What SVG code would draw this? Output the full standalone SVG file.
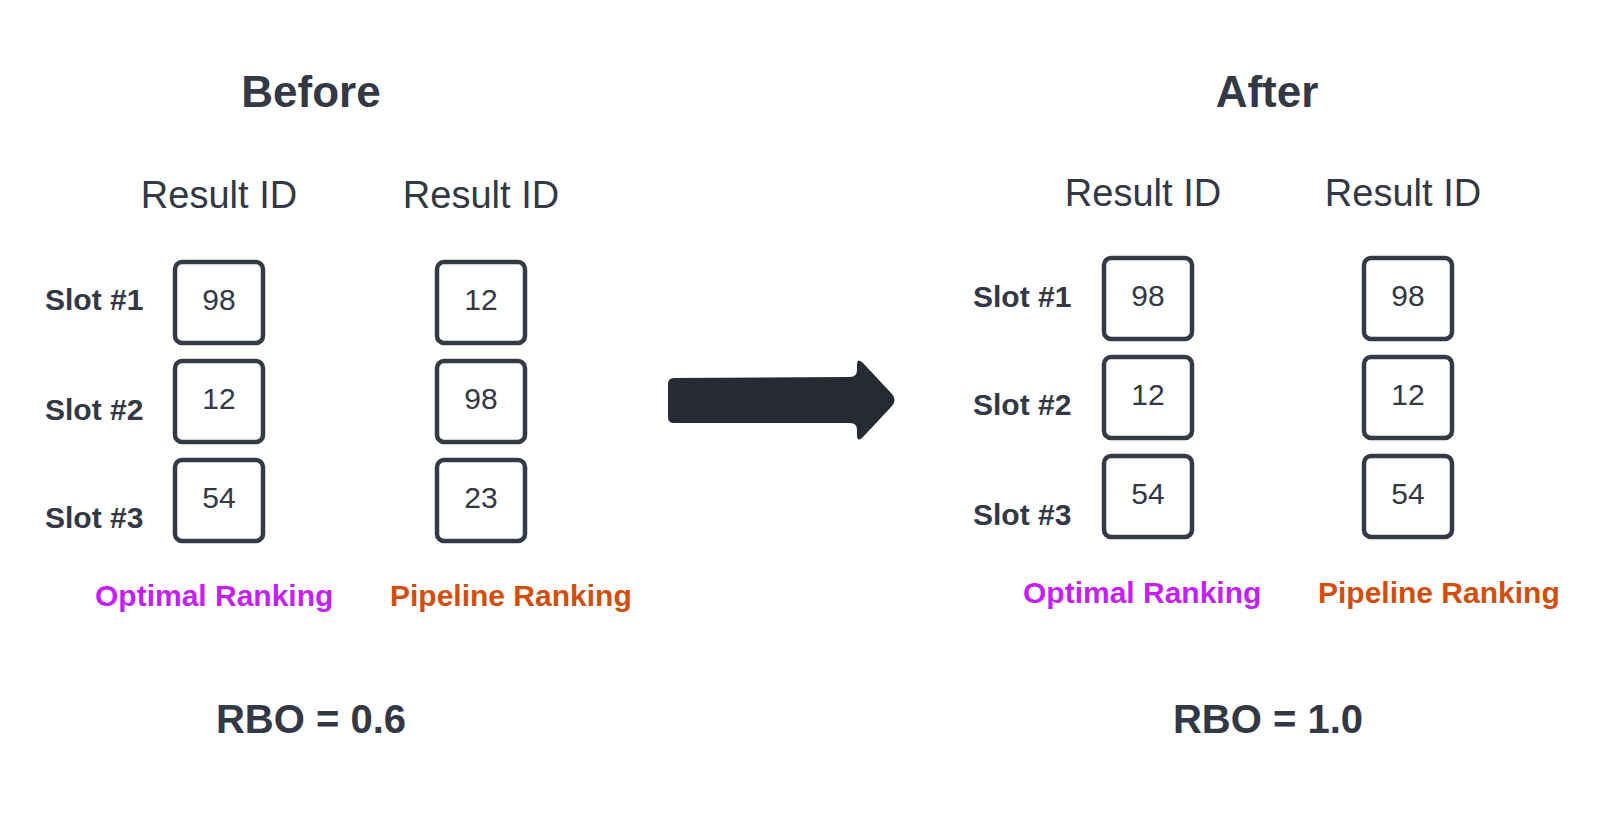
<svg xmlns="http://www.w3.org/2000/svg" width="1600" height="823" viewBox="0 0 1600 823">
<style>
text{font-family:"Liberation Sans",Arial,sans-serif;fill:#323844}
.title{font-size:44px;font-weight:bold;text-anchor:middle}
.hdr{font-size:38px;text-anchor:middle}
.slot{font-size:30px;font-weight:bold}
.num{font-size:30px;text-anchor:middle}
.box{fill:#fff;stroke:#343a45;stroke-width:4.5}
.opt{font-size:30px;font-weight:bold;fill:#c41ff5}
.pipe{font-size:30px;font-weight:bold;fill:#d24e0c}
.rbo{font-size:40px;font-weight:bold;text-anchor:middle}
</style>
<rect width="1600" height="823" fill="#fff"/>
<g id="before">
<text class="title" x="311" y="107">Before</text>
<text class="hdr" x="219" y="208">Result ID</text>
<text class="hdr" x="481" y="208">Result ID</text>
<text class="slot" x="45" y="310">Slot #1</text>
<text class="slot" x="45" y="420">Slot #2</text>
<text class="slot" x="45" y="528">Slot #3</text>
</g>
<g id="b-opt-1"><rect class="box" x="175" y="262" width="88" height="81" rx="7"/><text class="num" x="219" y="310">98</text></g>
<g id="b-opt-2"><rect class="box" x="175" y="361" width="88" height="81" rx="7"/><text class="num" x="219" y="409">12</text></g>
<g id="b-opt-3"><rect class="box" x="175" y="460" width="88" height="81" rx="7"/><text class="num" x="219" y="508">54</text></g>
<g id="b-pipe-1"><rect class="box" x="437" y="262" width="88" height="81" rx="7"/><text class="num" x="481" y="310">12</text></g>
<g id="b-pipe-2"><rect class="box" x="437" y="361" width="88" height="81" rx="7"/><text class="num" x="481" y="409">98</text></g>
<g id="b-pipe-3"><rect class="box" x="437" y="460" width="88" height="81" rx="7"/><text class="num" x="481" y="508">23</text></g>
<g id="b-labels">
<text class="opt" x="95" y="606">Optimal Ranking</text>
<text class="pipe" x="390" y="606">Pipeline Ranking</text>
<text class="rbo" x="311" y="733">RBO = 0.6</text>
</g>
<g id="connectors">
<path d="M674 378 L850 377 Q857 377 857 370 L857 365 Q857 357 863 363 L892 394 Q897 400 892 406 L863 437 Q857 443 857 435 L857 430 Q857 423 850 423 L674 423 Q668 423 668 417 L668 384 Q668 378 674 378 Z" fill="#262a33"/>
</g>
<g id="after">
<text class="title" x="1267" y="107">After</text>
<text class="hdr" x="1143" y="206">Result ID</text>
<text class="hdr" x="1403" y="206">Result ID</text>
<text class="slot" x="973" y="307">Slot #1</text>
<text class="slot" x="973" y="415">Slot #2</text>
<text class="slot" x="973" y="525">Slot #3</text>
</g>
<g id="a-opt-1"><rect class="box" x="1104" y="258" width="88" height="81" rx="7"/><text class="num" x="1148" y="306">98</text></g>
<g id="a-opt-2"><rect class="box" x="1104" y="357" width="88" height="81" rx="7"/><text class="num" x="1148" y="405">12</text></g>
<g id="a-opt-3"><rect class="box" x="1104" y="456" width="88" height="81" rx="7"/><text class="num" x="1148" y="504">54</text></g>
<g id="a-pipe-1"><rect class="box" x="1364" y="258" width="88" height="81" rx="7"/><text class="num" x="1408" y="306">98</text></g>
<g id="a-pipe-2"><rect class="box" x="1364" y="357" width="88" height="81" rx="7"/><text class="num" x="1408" y="405">12</text></g>
<g id="a-pipe-3"><rect class="box" x="1364" y="456" width="88" height="81" rx="7"/><text class="num" x="1408" y="504">54</text></g>
<g id="a-labels">
<text class="opt" x="1023" y="603">Optimal Ranking</text>
<text class="pipe" x="1318" y="603">Pipeline Ranking</text>
<text class="rbo" x="1268" y="733">RBO = 1.0</text>
</g>
</svg>
